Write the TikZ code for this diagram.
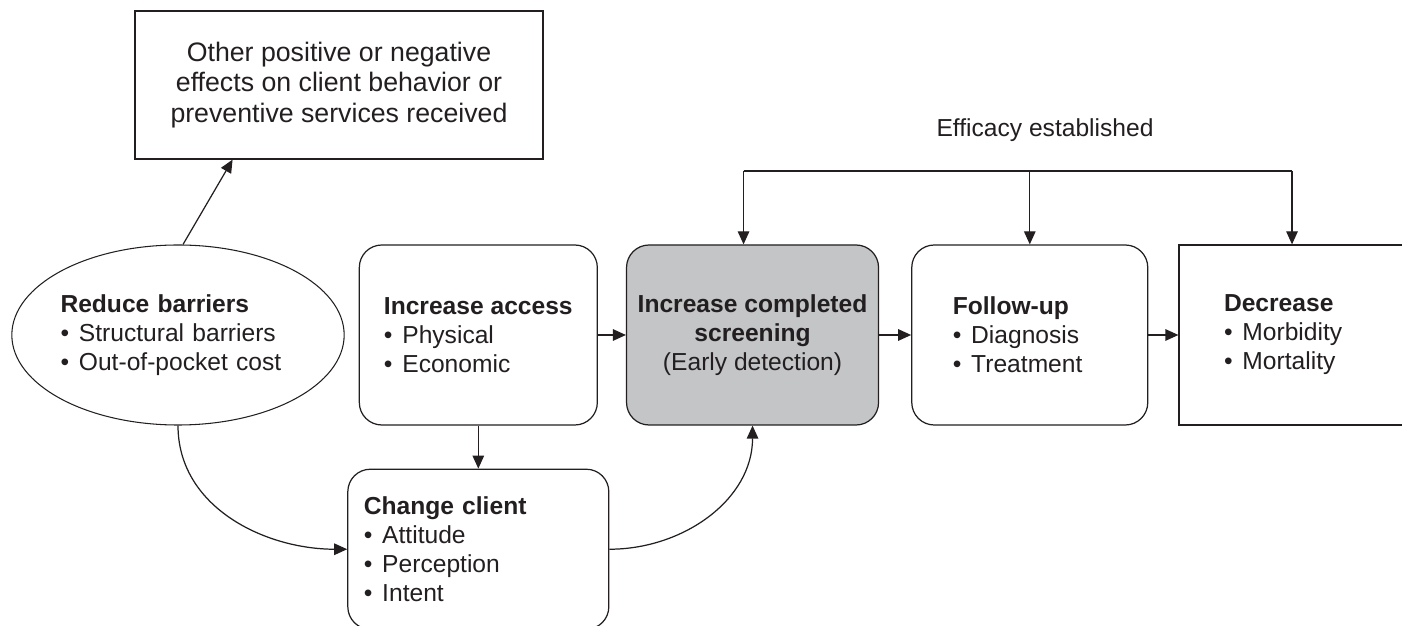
\documentclass[tikz,border=0pt]{standalone}
\usepackage{fontspec}
\setmainfont{Liberation Sans}
\usetikzlibrary{arrows.meta, positioning, calc, shapes.geometric}
\definecolor{ink}{HTML}{231F20}
\definecolor{screenfill}{HTML}{C4C5C7}
\newcommand\boxfont{\fontsize{14}{16.5}\selectfont}
\newcommand\notefont{\fontsize{15.2}{17.2}\selectfont}
\newcommand\itm{\textbullet\hspace{0.4em}}
\tikzset{
  stepbox/.style  = {draw=ink, line width=0.7pt, rounded corners=0.45cm,
                     minimum height=3.6cm, inner sep=0pt, align=left,
                     font=\boxfont, text=ink},
  plainbox/.style = {draw=ink, line width=0.7pt, minimum height=3.6cm,
                     inner sep=0pt, align=left, font=\boxfont, text=ink},
  oval/.style     = {ellipse, draw=ink, line width=0.6pt, minimum width=6.6cm,
                     minimum height=3.6cm, inner sep=0pt, align=left,
                     font=\boxfont, text=ink},
  flow/.style     = {-{Triangle[length=2.6mm, width=2.3mm]}, draw=ink, line width=0.7pt},
  link/.style     = {-, draw=ink, line width=0.7pt},
}

\begin{document}
\begin{tikzpicture}[node distance=0.6cm]
    \useasboundingbox (0,0) rectangle (28.04,12.5);
    \clip (0,0) rectangle (28.04,12.5);

    \node[oval, text width=4.7cm] (reduce) at (3.56,5.8)
      {\textbf{Reduce barriers}\\\itm Structural barriers\\\itm Out-of-pocket cost};
    \node[stepbox, minimum width=4.76cm, right=0.28cm of reduce] (access)
      {\textbf{Increase access}\\\itm Physical\\\itm Economic};
    \node[stepbox, fill=screenfill, minimum width=5.04cm, align=center, right=0.56cm of access] (screen)
      {\textbf{Increase completed}\\\textbf{screening}\\(Early detection)};
    \node[stepbox, minimum width=4.72cm, text width=3.08cm, inner xsep=0.82cm, right=0.64cm of screen] (follow)
      {\textbf{Follow-up}\\\itm Diagnosis\\\itm Treatment};
    \node[plainbox, minimum width=4.52cm, text width=2.72cm, inner xsep=0.9cm, right=of follow] (decrease)
      {\textbf{Decrease}\\\itm Morbidity\\\itm Mortality};
    \node[stepbox, minimum width=5.22cm, minimum height=3.2cm, text width=4.58cm, inner xsep=0.32cm,
          below=0.86cm of access] (client)
      {\textbf{Change client}\\\itm Attitude\\\itm Perception\\\itm Intent};
    \node[plainbox, minimum width=8.16cm, minimum height=2.96cm, align=center, font=\notefont] (effects) at (6.78,10.8)
      {Other positive or negative\\effects on client behavior or\\preventive services received};
    \node[font=\boxfont, text=ink] (efficacy) at (20.9,9.9) {Efficacy established};

    \draw[flow] ([xshift=0.1cm]reduce.north) -- ($(effects.south west)!0.24!(effects.south east)$);
    \draw[flow] (access) -- (screen);
    \draw[flow] (screen) -- (follow);
    \draw[flow] (follow) -- (decrease);
    \draw[flow] (access) -- (client);
    \draw[flow] (reduce.south) to[out=-90, in=180] (client.west);
    \draw[flow] (client.east) to[out=0, in=-90] (screen.south);

    % efficacy bracket
    \coordinate (bar) at (0,9.08);
    \coordinate (screentop) at ([xshift=-0.18cm]screen.north);
    \draw[link] (screentop |- bar) -- (decrease.north |- bar);
    \foreach \t in {screentop, follow.north, decrease.north}
      \draw[flow] (\t |- bar) -- (\t);
\end{tikzpicture}
\end{document}
